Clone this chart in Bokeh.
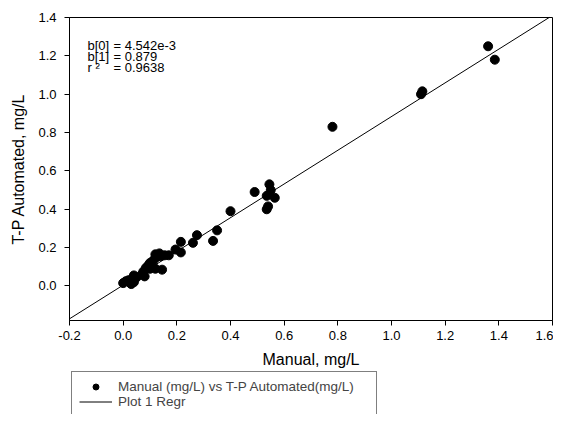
from bokeh.plotting import figure
from bokeh.models import (Range1d, Label, Legend, LegendItem, FixedTicker,
                          NumeralTickFormatter, ColumnDataSource)
from bokeh.embed import file_html
from bokeh.resources import INLINE

# Data
manual = [1.36, 1.385, 1.11, 1.115, 0.78,
          0.49, 0.545, 0.55, 0.535, 0.565, 0.54, 0.535, 0.40, 0.35, 0.335,
          0.275, 0.26, 0.215, 0.215, 0.195,
          0.0, 0.01, 0.02, 0.03, 0.04, 0.04, 0.035, 0.05, 0.07, 0.075, 0.08,
          0.085, 0.095, 0.10, 0.11, 0.12, 0.12, 0.135, 0.14, 0.145, 0.12,
          0.155, 0.17, 0.10]
automated = [1.25, 1.18, 1.00, 1.015, 0.83,
             0.49, 0.53, 0.50, 0.47, 0.46, 0.415, 0.40, 0.39, 0.29, 0.235,
             0.265, 0.225, 0.23, 0.175, 0.19,
             0.015, 0.025, 0.03, 0.01, 0.02, 0.055, 0.04, 0.045, 0.06, 0.075, 0.05,
             0.095, 0.11, 0.12, 0.13, 0.145, 0.165, 0.17, 0.155, 0.085, 0.09,
             0.16, 0.16, 0.09]
b0 = 4.542e-3
b1 = 0.879
r2 = 0.9638
x_ticks = [-0.2, 0.0, 0.2, 0.4, 0.6, 0.8, 1.0, 1.2, 1.4, 1.6]
y_ticks = [0.0, 0.2, 0.4, 0.6, 0.8, 1.0, 1.2, 1.4]
x_lim = (-0.2, 1.6)
y_lim = (-0.18, 1.4)

# regression line, clipped to the plot box
line_x = [x_lim[0], min(x_lim[1], (y_lim[1] - b0) / b1)]
line_y = [b0 + b1 * v for v in line_x]

FONT = "Liberation Sans"

# layout (pixels)
W, H = 553, 414
AX_LEFT, AX_RIGHT = 69, 552     # pixel columns of x = -0.2 and x = 1.6
AX_TOP, AX_BOTTOM = 17, 320     # pixel rows of y = 1.4 and y = -0.18
pxu_x = (AX_RIGHT - AX_LEFT) / (x_lim[1] - x_lim[0])
pxu_y = (AX_BOTTOM - AX_TOP) / (y_lim[1] - y_lim[0])
x_range = Range1d(x_lim[0] - AX_LEFT / pxu_x, x_lim[1] + (W - AX_RIGHT) / pxu_x)
y_range = Range1d(y_lim[0] - (H - AX_BOTTOM) / pxu_y, y_lim[1] + AX_TOP / pxu_y)

p = figure(width=W, height=H, output_backend="svg", toolbar_location=None,
           x_range=x_range, y_range=y_range,
           min_border_left=0, min_border_right=0, min_border_top=0,
           min_border_bottom=0)
p.background_fill_color = "white"
p.border_fill_color = "white"
p.outline_line_color = None
p.grid.visible = False

for ax in (p.xaxis[0], p.yaxis[0]):
    ax.axis_line_color = "black"
    ax.major_tick_line_color = "black"
    ax.major_tick_out = 5
    ax.major_tick_in = 0
    ax.minor_tick_line_color = None
    ax.major_label_text_font = FONT
    ax.major_label_text_font_size = "13px"
    ax.major_label_text_color = "black"
    ax.axis_label_text_font = FONT
    ax.axis_label_text_font_size = "16px"
    ax.axis_label_text_font_style = "normal"
    ax.axis_label_text_color = "black"
    ax.formatter = NumeralTickFormatter(format="0.0")

p.xaxis.ticker = FixedTicker(ticks=x_ticks)
p.yaxis.ticker = FixedTicker(ticks=y_ticks)
p.xaxis.fixed_location = y_lim[0]
p.yaxis.fixed_location = x_lim[0]
p.xaxis.bounds = x_lim
p.yaxis.bounds = y_lim
p.xaxis.axis_label = "Manual, mg/L"
p.yaxis.axis_label = "T-P Automated, mg/L"
p.xaxis.major_label_standoff = 5
p.yaxis.major_label_standoff = 8
p.xaxis.axis_label_standoff = 8
p.yaxis.axis_label_standoff = 8

# plot box
p.quad(left=[x_lim[0]], right=[x_lim[1]], bottom=[y_lim[0]], top=[y_lim[1]],
       fill_color=None, line_color="black", line_width=1)

src = ColumnDataSource(dict(x=manual, y=automated))
sc = p.scatter("x", "y", source=src, size=9, color="black")
ln = p.line(line_x, line_y, line_color="black", line_width=1)

# regression annotation
labels_left = ["b[0]", "b[1]", "r \u00b2"]
labels_right = ["= 4.542e-3", "= %s" % b1, "= %s" % r2]
for i, (l, r) in enumerate(zip(labels_left, labels_right)):
    for txt, xx in ((l, 87), (r, 113)):
        p.add_layout(Label(x=xx, y=H - 37 - 11 * i, x_units="screen",
                           y_units="screen", text=txt, text_font=FONT,
                           text_font_size="13px", text_baseline="top",
                           text_color="black"))

legend = Legend(items=[
    LegendItem(label="Manual (mg/L) vs T-P Automated(mg/L)", renderers=[sc]),
    LegendItem(label="Plot 1 Regr", renderers=[ln]),
], location=(71, -3))
legend.label_text_font = FONT
legend.label_text_font_size = "13.5px"
legend.glyph_width = 33
legend.glyph_height = 15
legend.label_height = 15
legend.label_width = 251
legend.label_standoff = 6
legend.padding = 7
legend.spacing = 0
legend.margin = 0
legend.border_line_color = "black"
legend.border_line_width = 1
legend.background_fill_color = "white"
legend.background_fill_alpha = 1
p.add_layout(legend, "center")

open("out.html", "w").write(file_html(p, INLINE))
